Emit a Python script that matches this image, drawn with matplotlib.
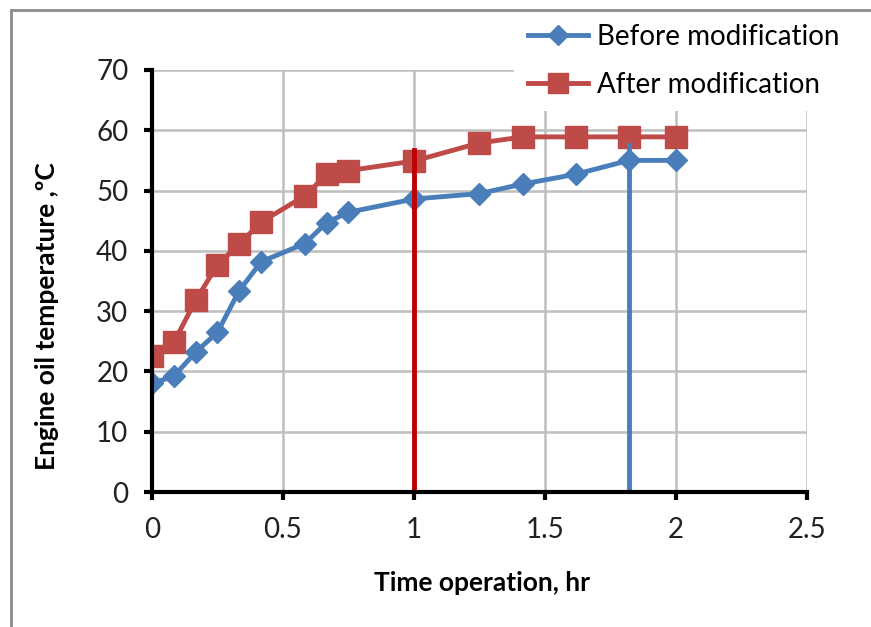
import matplotlib.pyplot as plt
from matplotlib.patches import Rectangle

# time of operation, hr
time_hr = [0, 0.083, 0.167, 0.25, 0.333, 0.417, 0.583, 0.667, 0.75,
           1.0, 1.25, 1.417, 1.617, 1.82, 2.0]
# engine oil temperature, degC
before_mod = [18.0, 19.2, 23.2, 26.5, 33.4, 38.2, 41.2, 44.7, 46.4,
              48.6, 49.5, 51.1, 52.7, 55.0, 55.0]
after_mod = [22.6, 24.8, 31.8, 37.7, 41.1, 44.8, 49.1, 52.7, 53.3,
             54.9, 57.9, 58.9, 58.9, 58.9, 58.9]
# vertical markers (x, top value)
red_mark = (1.0, 56.7)
blue_mark = (1.82, 57.5)

blue = '#4A7EBB'
red = '#BE4B48'

plt.rcParams['font.family'] = ['Lato', 'DejaVu Sans']

fig = plt.figure(figsize=(8.71, 6.27), dpi=100)
ax = fig.add_axes([0.1745, 0.2153, 0.752, 0.6731])

ax.plot(time_hr, before_mod, color=blue, lw=3.5, marker='D', ms=11,
        label='Before modification', zorder=4)
ax.plot(time_hr, after_mod, color=red, lw=3.5, marker='s', ms=16,
        label='After modification', zorder=3)
ax.plot([red_mark[0]] * 2, [0, red_mark[1]], color='#C00000', lw=3.5, zorder=5)
ax.plot([blue_mark[0]] * 2, [0, blue_mark[1]], color=blue, lw=3.5, zorder=5)

ax.set_xlim(0, 2.5)
ax.set_ylim(0, 70)
ax.set_xticks([0, 0.5, 1, 1.5, 2, 2.5])
ax.set_xticklabels(['0', '0.5', '1', '1.5', '2', '2.5'])
ax.set_yticks(range(0, 71, 10))
ax.grid(True, color='#BFBFBF', lw=1.8)
ax.set_axisbelow(True)
for s in ['top', 'right']:
    ax.spines[s].set_visible(False)
for s in ['left', 'bottom']:
    ax.spines[s].set_linewidth(3)
    ax.spines[s].set_zorder(6)
ax.tick_params(length=6, width=3, labelsize=20, colors='black',
               labelcolor='#222222')
ax.tick_params(axis='x', pad=12)
ax.tick_params(axis='y', pad=11)

ax.set_xlabel('Time operation, hr', fontsize=19, fontweight='bold')
ax.set_ylabel('Engine oil temperature ,ºC', fontsize=19, fontweight='bold')
ax.xaxis.set_label_coords(0.504, -0.216)
ax.xaxis.label.set_va('center')
ax.yaxis.set_label_coords(-0.16, 0.417)
ax.yaxis.label.set_va('center')

leg = ax.legend(loc='upper left', bbox_to_anchor=(514 / 871, 1 - 10 / 627),
                bbox_transform=fig.transFigure, frameon=True, fontsize=20,
                handlelength=2.15, handletextpad=0.35, labelspacing=0.78,
                borderaxespad=0, borderpad=0.5)
leg.get_frame().set_edgecolor('none')
leg.get_frame().set_facecolor('white')
leg.get_frame().set_alpha(1)
leg.get_frame().set_boxstyle('square', pad=0)
for line in leg.get_lines():
    line.set_markersize(line.get_markersize() * 0.9)

# outer chart frame, drawn over the legend box
fig.add_artist(Rectangle((11 / 871, -0.1), 1.2, 1 - 10 / 627 + 0.1,
                         transform=fig.transFigure, fill=False,
                         edgecolor='#8C8C8C', linewidth=2, zorder=10))

fig.savefig('out.png', dpi=100)
